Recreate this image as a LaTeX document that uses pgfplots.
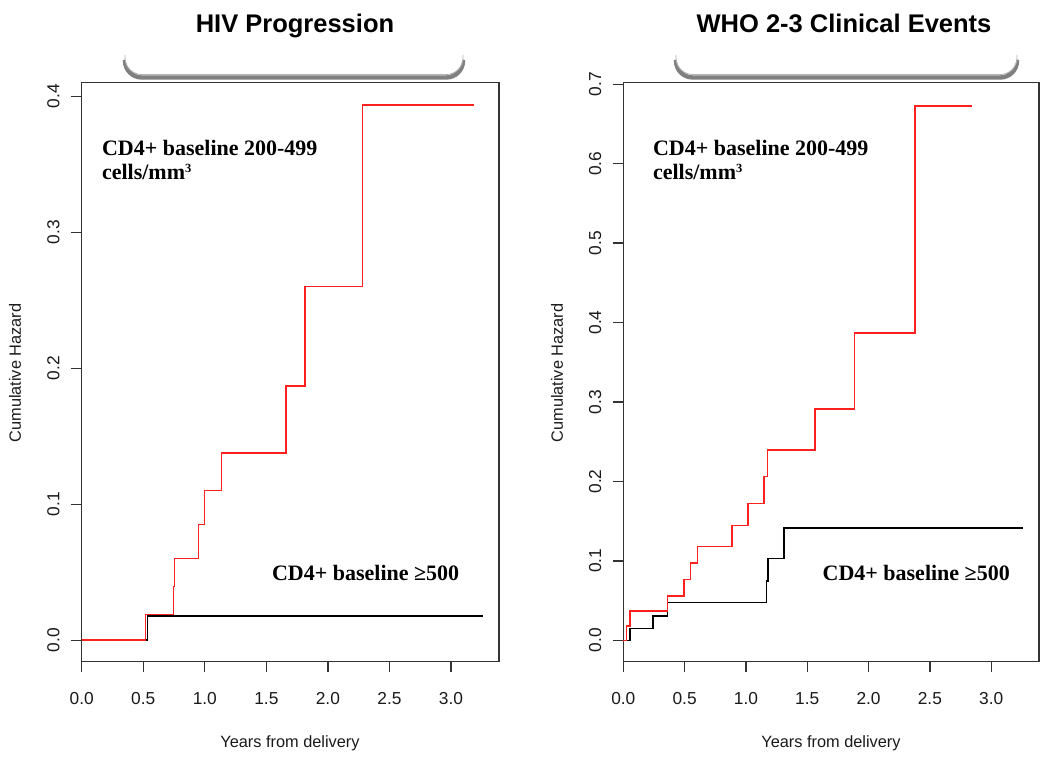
\documentclass[border=0pt]{standalone}
\usepackage{fontspec}
\setmainfont{Liberation Sans}
\newfontfamily\serifb{Liberation Serif}
\usepackage{pgfplots}
\pgfplotsset{compat=1.18}
\definecolor{rred}{HTML}{FF2020}
\definecolor{boxc}{HTML}{333333}
\definecolor{txt}{HTML}{1A1A1A}
\pgfplotsset{
  rstyle/.style={
    scale only axis,
    axis line style={draw=boxc, line width=0.9pt},
    xmin=0, xmax=3.39,
    xtick={0,0.5,1,1.5,2,2.5,3},
    xtick pos=bottom, ytick pos=left,
    tick align=outside,
    major tick length=6.3pt,
    every tick/.style={draw=boxc, line width=0.8pt},
    tick label style={font=\fontsize{10.4}{12}\selectfont, text=txt},
    /pgf/number format/assume math mode=true,
    xticklabel={\pgfmathprintnumber[fixed,fixed zerofill,precision=1]{\tick}},
    yticklabel={\pgfmathprintnumber[fixed,fixed zerofill,precision=1]{\tick}},
    xticklabel style={text height=7.6pt, text depth=0pt},
    yticklabel style={rotate=90, anchor=south, text height=7.6pt, text depth=0pt},
    xticklabel shift=8.3pt,
    yticklabel shift=3.5pt,
    clip=false,
  },
  hz/.style={const plot mark left, line width=0.95pt},
}
\newcommand{\annot}{\fontsize{13.2}{14.4}\selectfont\serifb\bfseries}
\begin{document}
\begin{tikzpicture}
\begin{scope}[x=0.6pt,y=-0.6pt,shift={(0pt,459pt)}]
  \path[use as bounding box, fill=white] (0,0) rectangle (1050,765);
  % tabs
  \foreach \a/\b in {125/463, 676/1017}{
    \draw[line width=2.6pt, draw=black!50, rounded corners=10pt] (\a,60) -- (\a,77.5) -- (\b,77.5) -- (\b,60);
    \fill[white, rounded corners=10pt] (\a+0.5,40) -- (\a+0.5,74.5) -- (\b-0.5,74.5) -- (\b-0.5,40) -- cycle;
    \draw[line width=0.5pt, draw=black!30, rounded corners=10pt] (\a,55) -- (\a,74.5) -- (\b,74.5) -- (\b,55);
  }
  \node[font=\fontsize{15.3}{18}\selectfont\bfseries, anchor=base] at (295,33) {HIV Progression};
  \node[font=\fontsize{15.3}{18}\selectfont\bfseries, anchor=base] at (844,33) {WHO 2-3 Clinical Events};
\end{scope}

\begin{axis}[rstyle, at={(49.02pt,61.98pt)}, anchor=south west,
  width=250.38pt, height=347.4pt,
  ymin=-0.0158, ymax=0.41, ytick={0,0.1,0.2,0.3,0.4}]
\addplot[hz, draw=black] coordinates {(0,0) (0.536,0.018) (3.26,0.018)};
\addplot[hz, draw=rred] coordinates {(0,0) (0.517,0.019) (0.745,0.0395) (0.753,0.060) (0.948,0.085) (0.997,0.110) (1.135,0.1377) (1.661,0.187) (1.815,0.260) (2.28,0.3934) (3.19,0.3934)};
\end{axis}

\begin{axis}[rstyle, at={(373.98pt,61.98pt)}, anchor=south west,
  width=249.42pt, height=347.4pt,
  ymin=-0.0269, ymax=0.702, ytick={0,0.1,0.2,0.3,0.4,0.5,0.6,0.7}]
\addplot[hz, draw=black] coordinates {(0,0) (0.055,0.0147) (0.242,0.0306) (0.361,0.0474) (1.168,0.075) (1.181,0.103) (1.311,0.1414) (3.263,0.1414)};
\addplot[hz, draw=rred] coordinates {(0,0) (0.027,0.018) (0.055,0.037) (0.361,0.056) (0.497,0.0764) (0.549,0.0974) (0.606,0.118) (0.888,0.1444) (1.016,0.172) (1.148,0.206) (1.176,0.2397) (1.564,0.2913) (1.887,0.3866) (2.378,0.673) (2.84,0.673)};
\end{axis}

\begin{scope}[x=0.6pt,y=-0.6pt,shift={(0pt,459pt)}]
  \foreach \cx in {290, 831}{
    \node[font=\fontsize{9.8}{11}\selectfont, text=txt] at (\cx,743) {Years from delivery};
  }
  \foreach \cx in {15, 557}{
    \node[font=\fontsize{9.8}{11}\selectfont, text=txt, rotate=90] at (\cx,373) {Cumulative Hazard};
  }
  \foreach \lx in {101.7, 652.7}{
    \node[font=\annot, anchor=base west, inner sep=0pt] at (\lx,156) {CD4+ baseline 200-499};
    \node[font=\annot, anchor=base west, inner sep=0pt] at (\lx,180) {cells/mm\raisebox{4.6pt}{\fontsize{7.5}{8}\selectfont 3}};
  }
  \node[font=\annot, anchor=base west, inner sep=0pt] at (271.7,580) {CD4+ baseline ≥500};
  \node[font=\annot, anchor=base west, inner sep=0pt] at (822.3,580) {CD4+ baseline ≥500};
\end{scope}
\end{tikzpicture}
\end{document}
